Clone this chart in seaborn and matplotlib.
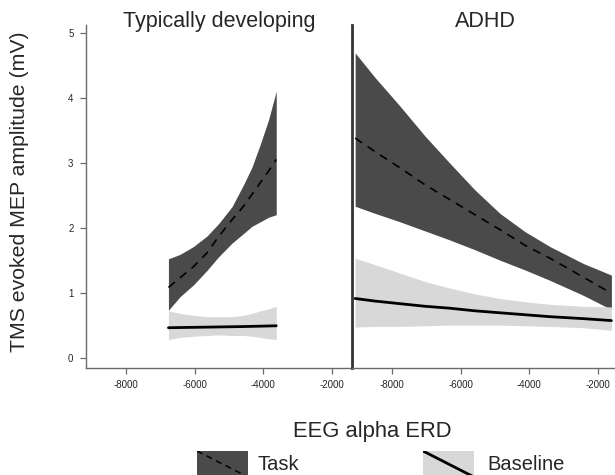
import matplotlib
matplotlib.use("Agg")
import matplotlib.pyplot as plt
import pandas as pd
import seaborn as sns

# Typically developing group
td_erd = [-6765, -6423, -6035, -5644, -5305, -4915, -4575, -4330, -4088, -3845, -3620]
td_task_mean = [1.09, 1.24, 1.41, 1.62, 1.87, 2.13, 2.34, 2.52, 2.70, 2.88, 3.06]
td_task_hi = [1.53, 1.60, 1.72, 1.88, 2.07, 2.33, 2.67, 2.94, 3.29, 3.67, 4.11]
td_task_lo = [0.74, 0.95, 1.13, 1.35, 1.56, 1.77, 1.92, 2.03, 2.10, 2.17, 2.21]
td_base_mean = [0.470, 0.473, 0.476, 0.479, 0.482, 0.485, 0.488, 0.491, 0.494, 0.497, 0.500]
td_base_hi = [0.73, 0.69, 0.66, 0.64, 0.64, 0.64, 0.66, 0.69, 0.73, 0.76, 0.80]
td_base_lo = [0.29, 0.32, 0.34, 0.35, 0.36, 0.35, 0.35, 0.34, 0.32, 0.30, 0.29]

# ADHD group
adhd_erd = [-9078, -8495, -7767, -7039, -6311, -5582, -4854, -4126, -3398, -2427, -1602]
adhd_task_mean = [3.39, 3.18, 2.93, 2.67, 2.44, 2.21, 1.98, 1.74, 1.54, 1.25, 1.00]
adhd_task_hi = [4.70, 4.32, 3.88, 3.42, 3.00, 2.59, 2.23, 1.95, 1.72, 1.46, 1.28]
adhd_task_lo = [2.34, 2.23, 2.10, 1.96, 1.82, 1.67, 1.51, 1.36, 1.20, 0.97, 0.75]
adhd_base_mean = [0.92, 0.88, 0.84, 0.80, 0.77, 0.73, 0.70, 0.67, 0.64, 0.61, 0.58]
adhd_base_hi = [1.54, 1.44, 1.31, 1.18, 1.08, 0.99, 0.92, 0.87, 0.83, 0.80, 0.79]
adhd_base_lo = [0.48, 0.49, 0.49, 0.50, 0.51, 0.51, 0.51, 0.50, 0.49, 0.47, 0.43]

panel_titles = ["Typically developing", "ADHD"]
x_ticks = [-8000, -6000, -4000, -2000]
y_ticks = [0, 1, 2, 3, 4, 5]

TASK_FILL = "#4a4a4a"
BASE_FILL = "#d8d8d8"
SPINE = "#6a6a6a"

sns.set_style("ticks")
plt.rcParams["font.family"] = ["Liberation Sans", "DejaVu Sans"]

W, H = 615, 475
fig = plt.figure(figsize=(W / 100, H / 100), dpi=100)


def px_box(x0, y0, x1, y1):
    return [x0 / W, 1 - y1 / H, (x1 - x0) / W, (y1 - y0) / H]


ax_td = fig.add_axes(px_box(86, 25, 352, 368))
ax_ad = fig.add_axes(px_box(352, 25, 618, 368))

groups = [
    (ax_td, td_erd, td_task_mean, td_task_lo, td_task_hi, td_base_mean, td_base_lo, td_base_hi),
    (ax_ad, adhd_erd, adhd_task_mean, adhd_task_lo, adhd_task_hi, adhd_base_mean, adhd_base_lo, adhd_base_hi),
]

for i, (ax, x, tm, tlo, thi, bm, blo, bhi) in enumerate(groups):
    ax.fill_between(x, tlo, thi, color=TASK_FILL, lw=0, zorder=1)
    ax.fill_between(x, blo, bhi, color=BASE_FILL, lw=0, zorder=1)
    df = pd.DataFrame({"erd": x, "task": tm, "base": bm})
    sns.lineplot(data=df, x="erd", y="task", ax=ax, color="black", lw=1.2,
                 linestyle=(0, (5, 4)), zorder=3)
    sns.lineplot(data=df, x="erd", y="base", ax=ax, color="black", lw=2.0, zorder=3)

    ax.set_xlim(-9170, -1410)
    ax.set_ylim(-0.15, 5.13)
    ax.set_xticks(x_ticks)
    ax.set_xticklabels([str(t) for t in x_ticks], fontsize=7)
    ax.set_xlabel("")
    ax.set_ylabel("")
    ax.set_title(panel_titles[i], fontsize=15.5, pad=2, y=0.985)
    ax.tick_params(axis="both", length=4, width=0.9, color=SPINE, pad=5)
    for side in ["top", "right"]:
        ax.spines[side].set_visible(False)
    ax.spines["bottom"].set_color(SPINE)
    ax.spines["bottom"].set_linewidth(1.0)

ax_td.set_yticks(y_ticks)
ax_td.set_yticklabels([str(t) for t in y_ticks], fontsize=7)
ax_td.spines["left"].set_color(SPINE)
ax_td.spines["left"].set_linewidth(1.0)

ax_ad.set_yticks([])
ax_ad.spines["left"].set_color("#333333")
ax_ad.spines["left"].set_linewidth(2.0)

fig.text(20 / W, 1 - 192 / H, "TMS evoked MEP amplitude (mV)", rotation=90,
         ha="center", va="center", fontsize=15.3)
fig.text(372 / W, 1 - 432 / H, "EEG alpha ERD", ha="center", va="center",
         fontsize=15.8)

# legend keys, drawn like the original (cut by the bottom edge)
legend_items = [("Task", TASK_FILL, (0, (4, 3)), 1.1, 197, 258),
                ("Baseline", BASE_FILL, "-", 2.0, 423, 487)]
for label, fc, ls, lw, kx, tx in legend_items:
    kax = fig.add_axes(px_box(kx, 451, kx + 51, 477))
    kax.set_facecolor(fc)
    kax.plot([0, 1], [1, 0], color="black", ls=ls, lw=lw, transform=kax.transAxes)
    kax.set_xlim(0, 1)
    kax.set_ylim(0, 1)
    kax.set_xticks([])
    kax.set_yticks([])
    for s in kax.spines.values():
        s.set_visible(False)
    fig.text(tx / W, 1 - 465 / H, label, ha="left", va="center", fontsize=14.5)

fig.savefig("out.png", dpi=100)
